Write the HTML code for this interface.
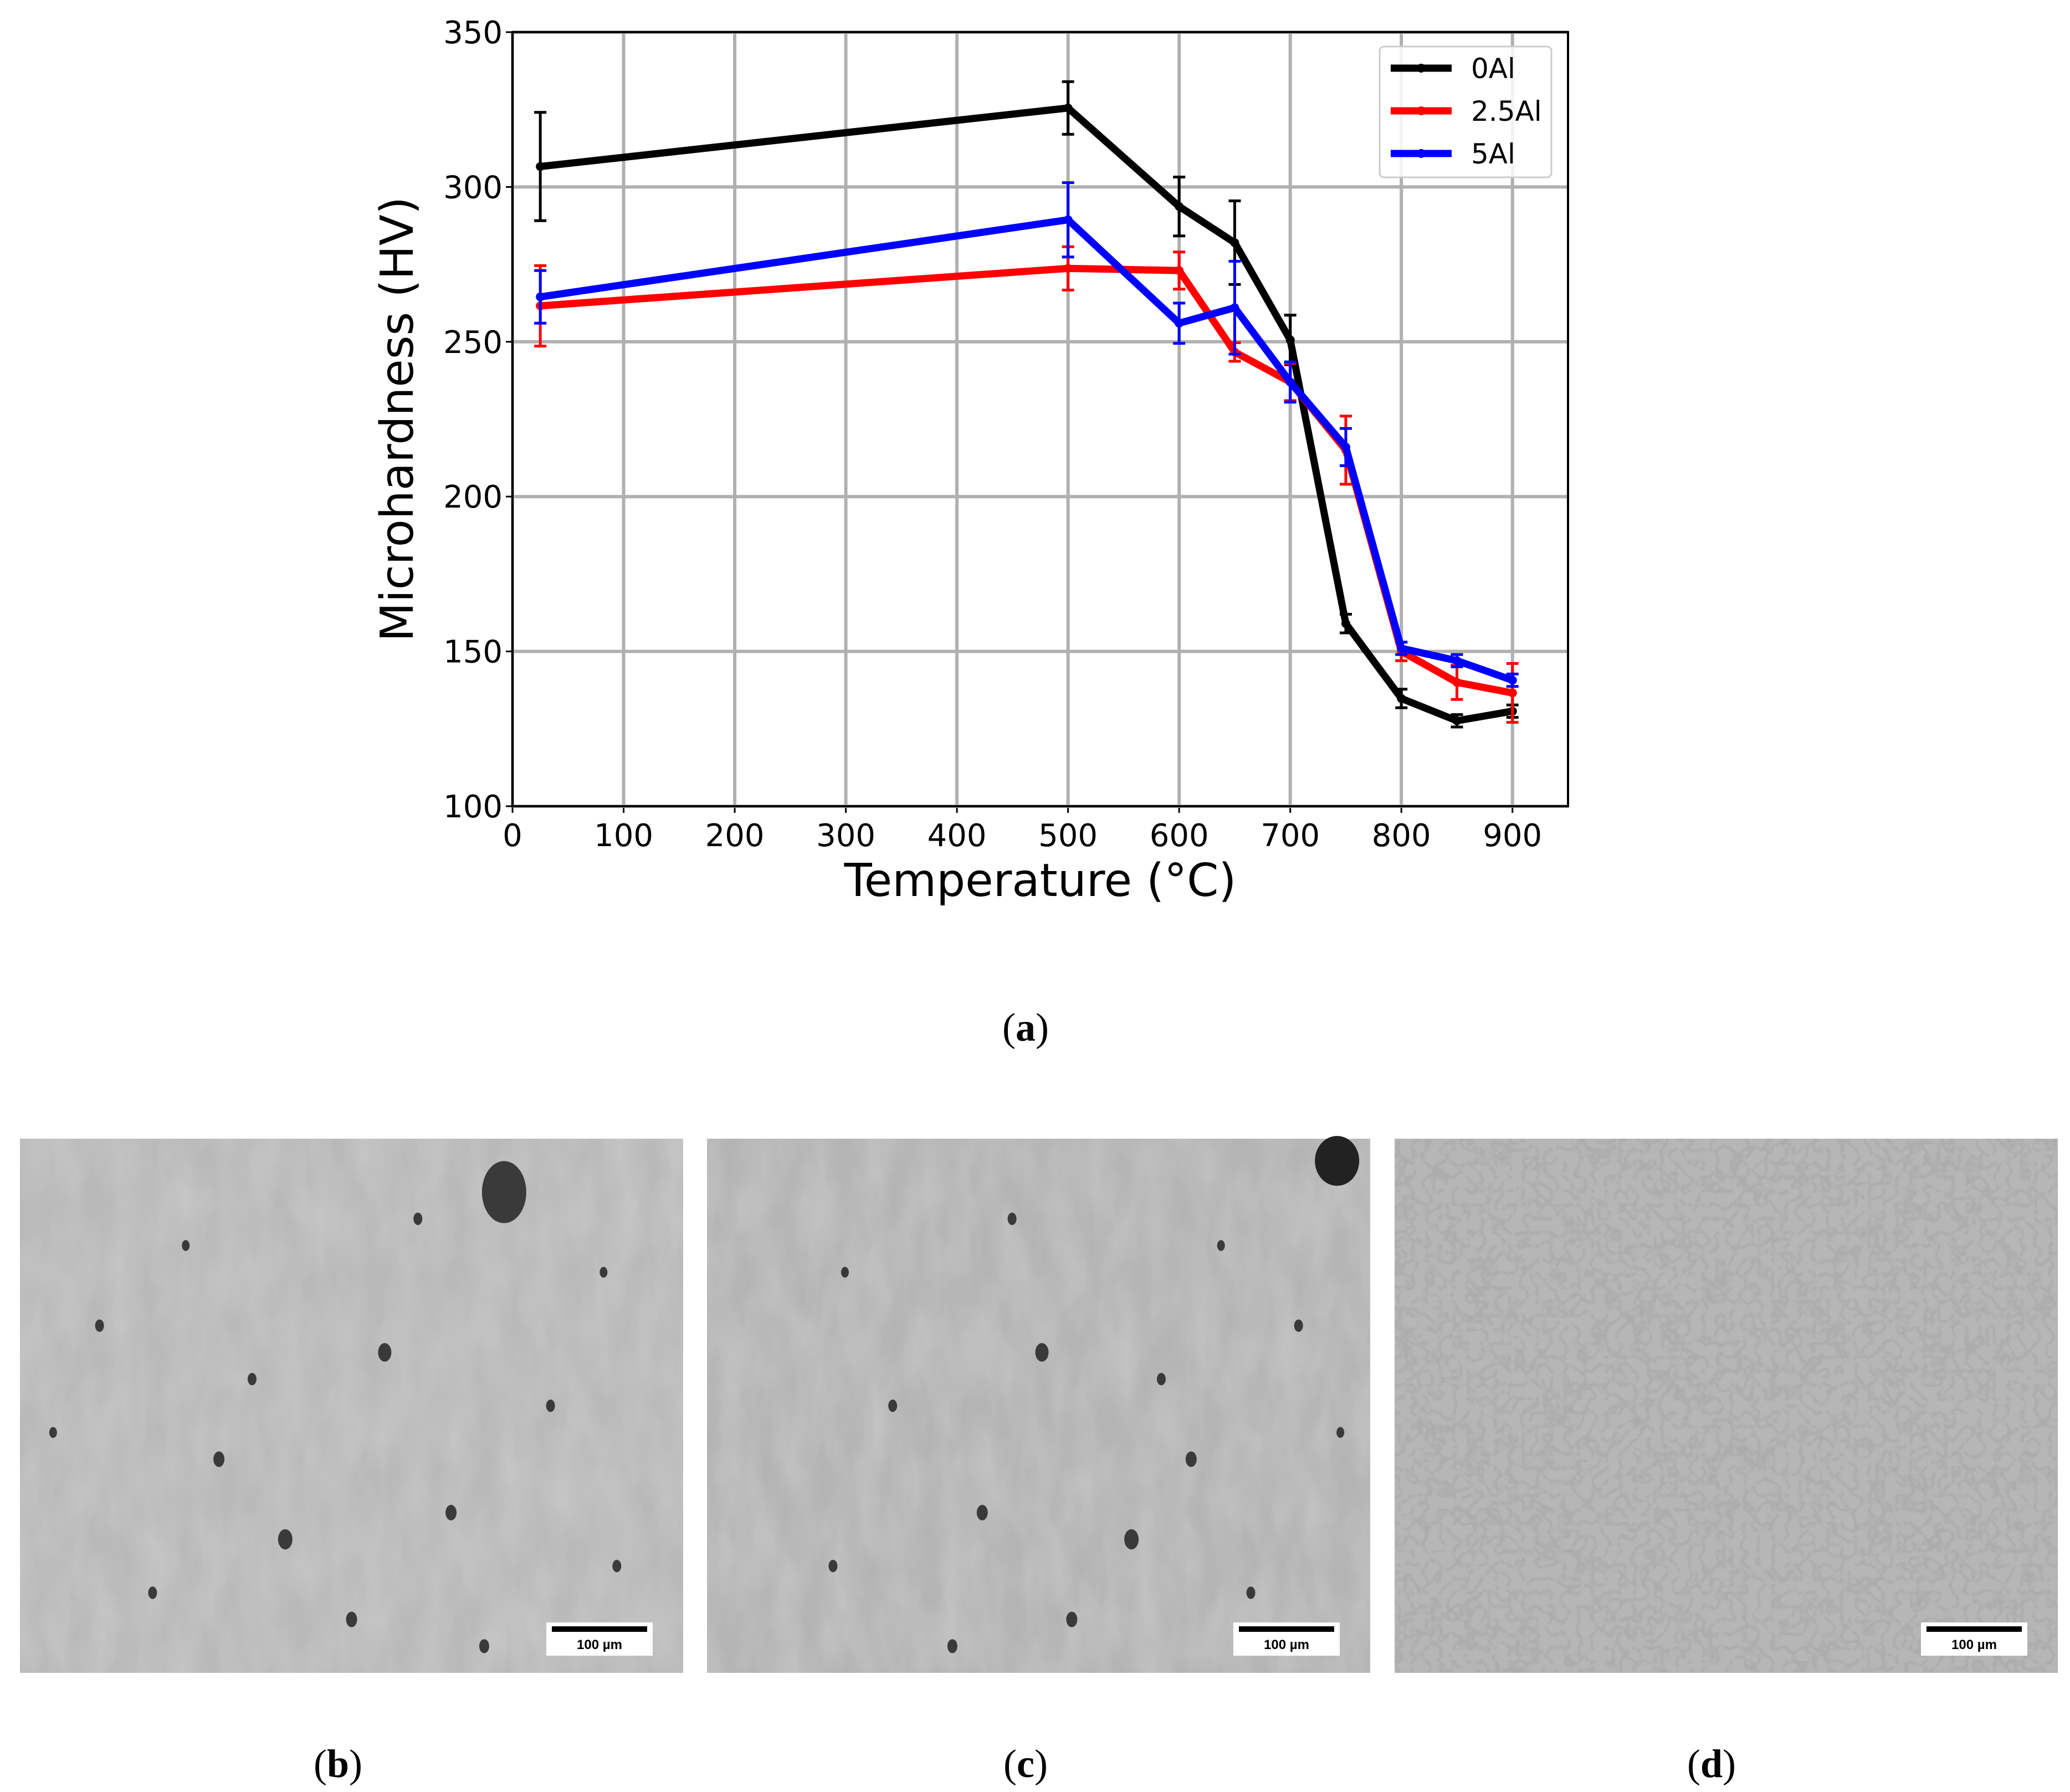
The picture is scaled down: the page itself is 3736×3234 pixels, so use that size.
<!DOCTYPE html>
<html><head><meta charset="utf-8">
<style>
html,body{margin:0;padding:0;background:#fff;}
svg{display:block;}
</style></head>
<body>
<svg id="fig" width="3736" height="3234" viewBox="0 0 3736 3234" xmlns="http://www.w3.org/2000/svg" font-family="'DejaVu Sans','Liberation Sans',sans-serif">
<defs>
<filter id="tex" x="0" y="0" width="100%" height="100%">
<feTurbulence type="fractalNoise" baseFrequency="0.02 0.008" numOctaves="3" seed="4"/>
<feColorMatrix type="matrix" values="0 0 0 0 0.7  0 0 0 0 0.7  0 0 0 0 0.7  0 0 0 -0.6 0.45"/>
</filter>
<filter id="tex2" x="0" y="0" width="100%" height="100%">
<feTurbulence type="turbulence" baseFrequency="0.04" numOctaves="2" seed="9"/>
<feColorMatrix type="matrix" values="0 0 0 0 0.3  0 0 0 0 0.3  0 0 0 0 0.3  0 0 0 -1.2 0.35"/>
</filter>
</defs>
<g id="chart"></g>
<g id="micro"></g>
<text x="1851" y="1878" font-family="'Liberation Serif',serif" font-size="72" text-anchor="middle">(<tspan font-weight="bold">a</tspan>)</text>
<text x="610" y="3207" font-family="'Liberation Serif',serif" font-size="72" text-anchor="middle">(<tspan font-weight="bold">b</tspan>)</text>
<text x="1851" y="3207" font-family="'Liberation Serif',serif" font-size="72" text-anchor="middle">(<tspan font-weight="bold">c</tspan>)</text>
<text x="3089" y="3207" font-family="'Liberation Serif',serif" font-size="72" text-anchor="middle">(<tspan font-weight="bold">d</tspan>)</text>
</svg>
<script>
const temps=[25,500,600,650,700,750,800,850,900];
const s0Al=[306.6,325.5,293.7,282,250.6,159,134.8,127.6,130.7];
const e0Al=[17.5,8.5,9.5,13.5,8,3,3,2,2];
const s25Al=[261.6,273.7,273,246.7,237,215,150,140,136.6];
const e25Al=[13,7,6,3,6,11,3,5.5,9.5];
const s5Al=[264.5,289.4,256,261,237,216,151,147,140.7];
const e5Al=[8.5,12,6.5,15,6.5,6,2,2,2];
const xTicks=[0,100,200,300,400,500,600,700,800,900];
const yTicks=[100,150,200,250,300,350];
const seriesNames=["0Al","2.5Al","5Al"];

const NS="http://www.w3.org/2000/svg";
const L=925,R=2830,T=58,B=1455;
const xS=v=>L+v*(R-L)/950;
const yS=v=>B-(v-100)*(B-T)/250;
function mk(tag,attrs,parent){const e=document.createElementNS(NS,tag);for(const k in attrs)e.setAttribute(k,attrs[k]);parent.appendChild(e);return e;}
const g=document.getElementById('chart');
xTicks.forEach(t=>{
  const l=mk('line',{x1:xS(t),x2:xS(t),y1:T,y2:B,stroke:'#b0b0b0','stroke-width':6},g);
  
  
  const tx=mk('text',{x:xS(t),y:B+72,'font-size':56,'text-anchor':'middle'},g);
  tx.textContent=t;
  
  
  mk('line',{x1:xS(t),x2:xS(t),y1:B,y2:B+12,stroke:'#000','stroke-width':3},g);
});
yTicks.forEach(t=>{
  const l=mk('line',{x1:L,x2:R,y1:yS(t),y2:yS(t),stroke:'#b0b0b0','stroke-width':6},g);
  
  
  const tx=mk('text',{x:L-18,y:yS(t)+20,'font-size':56,'text-anchor':'end'},g);
  tx.textContent=t;
  
  
  mk('line',{x1:L-12,x2:L,y1:yS(t),y2:yS(t),stroke:'#000','stroke-width':3},g);
});
const fr=mk('rect',{x:L,y:T,width:R-L,height:B-T,fill:'none',stroke:'#000','stroke-width':4},g);


const xt=mk('text',{x:(L+R)/2,y:1617,'font-size':82,'text-anchor':'middle'},g);
xt.textContent='Temperature (°C)';


const yt=mk('text',{x:0,y:0,'font-size':82,'text-anchor':'middle',transform:'translate(745,'+((T+B)/2)+') rotate(-90)'},g);
yt.textContent='Microhardness (HV)';



const seriesVals=[s0Al,s25Al,s5Al];
const seriesErr=[e0Al,e25Al,e5Al];
const colors=['#000','#ff0000','#0000ff'];
[0,1,2].forEach(i=>{
  const sg=mk('g',{},g);
  
  
  const pts=temps.map((t,j)=>xS(t)+','+yS(seriesVals[i][j])).join(' ');
  const pl=mk('polyline',{points:pts,fill:'none',stroke:colors[i],'stroke-width':13,'stroke-linejoin':'round'},sg);
  
  
  temps.forEach((t,j)=>{
    const x=xS(t),y1=yS(seriesVals[i][j]-seriesErr[i][j]),y2=yS(seriesVals[i][j]+seriesErr[i][j]);
    const eb=mk('path',{d:`M${x},${y1}V${y2}M${x-11},${y1}H${x+11}M${x-11},${y2}H${x+11}`,stroke:colors[i],'stroke-width':5,fill:'none'},sg);
    
    
    const c=mk('circle',{cx:x,cy:yS(seriesVals[i][j]),r:8,fill:colors[i]},sg);
    
    
  });
});
const lg=mk('g',{},g);


mk('rect',{x:2490,y:84,width:310,height:236,rx:8,fill:'#fff',stroke:'#ccc','stroke-width':3,'fill-opacity':0.85},lg);
seriesNames.forEach((n,i)=>{
  const y=123+i*77;
  const e=mk('g',{},lg);
  
  
  mk('line',{x1:2510,x2:2620,y1:y,y2:y,stroke:colors[i],'stroke-width':13},e);
  mk('circle',{cx:2565,cy:y,r:8,fill:colors[i]},e);
  const t=mk('text',{x:2655,y:y+18,'font-size':50},e);
  t.textContent=n;
});

const m=document.getElementById('micro');
const panels=[{x:36,dark:'#b9b9b9',f:'tex'},{x:1276,dark:'#b4b4b4',f:'tex'},{x:2517,dark:'#b6b6b6',f:'tex2'}];
const blobs=[[0.73,0.1,40],[0.55,0.4,12],[0.3,0.6,10],[0.4,0.75,13],[0.2,0.85,8],[0.65,0.7,10],[0.8,0.5,8],[0.12,0.35,8],[0.5,0.9,10],[0.88,0.25,7],[0.25,0.2,7],[0.6,0.15,8],[0.9,0.8,8],[0.05,0.55,7],[0.35,0.45,8],[0.7,0.95,9]];
panels.forEach((p,i)=>{
  const pg=mk('g',{},m);
  
  
  mk('rect',{x:p.x,y:2055,width:1197,height:964,fill:p.dark},pg);
  mk('rect',{x:p.x,y:2055,width:1197,height:964,filter:'url(#'+p.f+')'},pg);
  if(i<2) blobs.forEach((b,k)=>{
    if(i==1&&k==0){mk('ellipse',{cx:p.x+1197*0.95,cy:2055+40,rx:40,ry:45,fill:'#222'},pg);return;}
    mk('ellipse',{cx:p.x+1197*(i==1?1-b[0]*0.9:b[0]),cy:2055+964*b[1],rx:b[2],ry:b[2]*1.4,fill:'#3a3a3a'},pg);
  });
  const sb=mk('g',{},pg);
  
  
  mk('rect',{x:p.x+950,y:2928,width:192,height:60,fill:'#fff'},sb);
  mk('rect',{x:p.x+960,y:2935,width:172,height:10,fill:'#000'},sb);
  const t=mk('text',{x:p.x+1046,y:2976,'font-size':24,'font-weight':'bold','text-anchor':'middle','font-family':"'Liberation Sans',sans-serif"},sb);
  t.textContent='100 µm';
});
</script>
</body></html>
